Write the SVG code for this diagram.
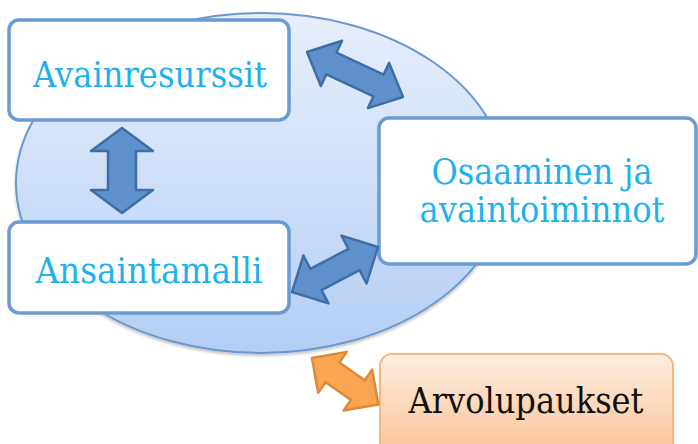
<svg xmlns="http://www.w3.org/2000/svg" width="698" height="444" viewBox="0 0 698 444">
  <defs>
    <linearGradient id="gEll" x1="0" y1="0" x2="0" y2="1">
      <stop offset="0" stop-color="#e8effc"/>
      <stop offset="1" stop-color="#b4cef5"/>
    </linearGradient>
    <linearGradient id="gOr" x1="0" y1="0" x2="0" y2="1">
      <stop offset="0" stop-color="#fdeee2"/>
      <stop offset="1" stop-color="#fbc393"/>
    </linearGradient>
    <filter id="sh" x="-10%" y="-10%" width="120%" height="125%">
      <feDropShadow dx="0" dy="2" stdDeviation="1.5" flood-color="#000" flood-opacity="0.25"/>
    </filter>
  </defs>
  <style>
    .box { fill: #ffffff; stroke: #6a9bd2; stroke-width: 3.5; }
    .lbl { font-family: "DejaVu Serif", "Liberation Serif", serif; font-size: 35px; fill: #1db1ee; text-anchor: middle; }
    .blk { font-family: "DejaVu Serif", "Liberation Serif", serif; font-size: 35px; fill: #111111; text-anchor: middle; }
    .arB { fill: #5e91cc; stroke: #3f6ea5; stroke-width: 2.5; stroke-linejoin: round; }
    .arO { fill: #f9a552; stroke: #dd8a38; stroke-width: 2.5; stroke-linejoin: round; }
  </style>
  <rect width="698" height="444" fill="#ffffff"/>
  <g id="circle">
    <ellipse cx="261" cy="183" rx="245" ry="170" fill="url(#gEll)" stroke="#6b99cf" stroke-width="2" filter="url(#sh)"/>
  </g>
  <g id="avainresurssit">
    <rect class="box" x="9" y="20" width="280" height="100" rx="10"/>
    <text class="lbl" x="150" y="87" textLength="234" lengthAdjust="spacingAndGlyphs">Avainresurssit</text>
  </g>
  <g id="ansaintamalli">
    <rect class="box" x="9" y="222" width="280" height="91" rx="10"/>
    <text class="lbl" x="149" y="283" textLength="227" lengthAdjust="spacingAndGlyphs">Ansaintamalli</text>
  </g>
  <g id="osaaminen">
    <rect class="box" x="379" y="118" width="317" height="146" rx="10"/>
    <text class="lbl" x="542" y="184" textLength="221" lengthAdjust="spacingAndGlyphs">Osaaminen ja</text>
    <text class="lbl" x="542" y="222" textLength="245" lengthAdjust="spacingAndGlyphs">avaintoiminnot</text>
  </g>
  <g id="arvolupaukset">
    <rect x="380" y="354" width="293" height="100" rx="12" fill="url(#gOr)" stroke="#f6b77c" stroke-width="2"/>
    <text class="blk" x="526" y="413" textLength="235" lengthAdjust="spacingAndGlyphs">Arvolupaukset</text>
  </g>
  <g id="connectors">
    <path class="arB" transform="translate(307,52) rotate(25.1)" d="M0,0 L27,-25 L27,-12 L79,-12 L79,-25 L106,0 L79,25 L79,12 L27,12 L27,25 Z"/>
    <path class="arB" d="M122,128 L153,151 L136,151 L136,190 L153,190 L122,213 L91,190 L108,190 L108,151 L91,151 Z"/>
    <path class="arB" transform="translate(292,292) rotate(-27.6)" d="M0,0 L27,-27 L27,-12 L70,-12 L70,-27 L97,0 L70,27 L70,12 L27,12 L27,27 Z"/>
    <path class="arO" transform="translate(312,358) rotate(35)" d="M0,0 L25,-25 L25,-12 L56,-12 L56,-25 L81,0 L56,25 L56,12 L25,12 L25,25 Z"/>
  </g>
</svg>
